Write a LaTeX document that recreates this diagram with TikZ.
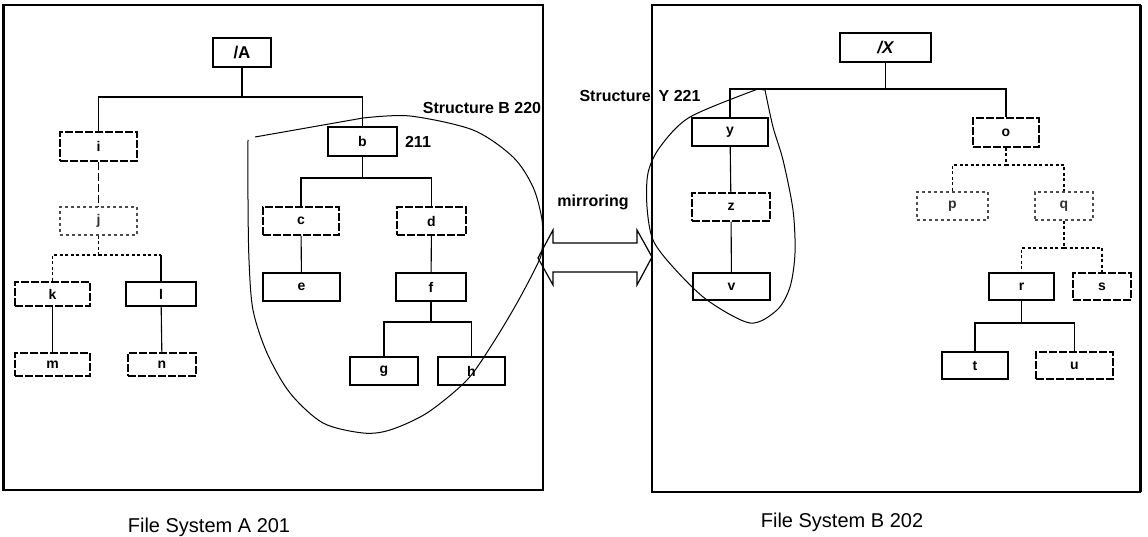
\documentclass[tikz,border=0pt]{standalone}
\usepackage{fontspec}
\setmainfont{Liberation Sans}
\begin{document}
\begin{tikzpicture}[x=1pt,y=-1pt,
 box/.style={draw, line width=1.2pt, minimum height=28pt, inner sep=0pt, font=\bfseries\fontsize{14}{14}\selectfont},
 dbox/.style={box, dash pattern=on 8pt off 2pt},
 fbox/.style={box, dash pattern=on 3pt off 3pt, draw=black!70, text=black!80},
 edge/.style={line width=1.1pt},
 dedge/.style={edge, dash pattern=on 8pt off 3pt},
 fedge/.style={edge, dash pattern=on 3pt off 2.5pt},
 blob/.style={line width=1pt},
 frame/.style={line width=1.5pt},
 lbl/.style={font=\bfseries\fontsize{16}{16}\selectfont, inner sep=0pt},
 captxt/.style={font=\fontsize{20}{20}\selectfont, inner sep=0pt}]
\useasboundingbox (0,0) rectangle (1148,537);

% frames
\draw[frame] (3,5) rectangle (543,490);
\draw[line width=3pt] (3,5) -- (3,490);
\draw[frame] (652,5) rectangle (1140,492);
\draw[line width=3pt] (1140,5) -- (1140,492);

% structure outlines
\draw[blob] (255,137) -- (363,118) plot[smooth] coordinates {(363,118) (410,116) (473,130) (513,157) (533,187) (542,220) (542,250) (537,265) (517,303) (493,343) (467,380) (427,413) (390,430) (363,433) (323,423) (290,393) (267,353) (253,310) (249,260) (248,200) (248,140)};
\draw[blob] (758,89) -- (765,90) plot[smooth] coordinates {(765,90) (773,127) (783,160) (793,210) (795,253) (790,287) (777,310) (750,323) (707,300) (673,267) (653,240) (647,207) (648,173) (660,147) (690,117) (758,89)};

% mirroring arrow
\draw[line width=1.2pt] (538,258) -- (553,230) -- (553,243) -- (637,243) -- (637,230) -- (652,257) -- (637,285) -- (637,272) -- (553,272) -- (553,285) -- cycle;

% left tree nodes
\node[box, minimum width=58pt, minimum height=29pt, font=\bfseries\fontsize{17}{17}\selectfont] (A) at (242,52.5) {/A};
\node[dbox, minimum width=77pt, minimum height=29pt] (i) at (98.5,146.5) {i};
\node[fbox, minimum width=77pt] (j) at (98.5,221) {j};
\node[dbox, minimum width=75pt, minimum height=24pt] (k) at (52.5,294) {k};
\node[box, minimum width=70pt, minimum height=24pt] (l) at (161,294) {l};
\node[dbox, minimum width=75pt, minimum height=23pt] (m) at (52.5,364.5) {m};
\node[dbox, minimum width=68pt, minimum height=23pt] (n) at (162,364.5) {n};
\node[box, minimum width=69pt, minimum height=29pt] (b) at (362.5,141.5) {b};
\node[dbox, minimum width=76pt] (c) at (301,221) {c};
\node[dbox, minimum width=69pt] (d) at (431.5,221) {d};
\node[box, minimum width=77pt] (e) at (301.5,287) {e};
\node[box, minimum width=70pt] (f) at (431,287) {f};
\node[box, minimum width=68pt] (g) at (384,371) {g};
\node[box, minimum width=67pt] (h) at (471.5,371) {h};

% right tree nodes
\node[box, minimum width=91pt, minimum height=29pt, font=\bfseries\itshape\fontsize{17}{17}\selectfont] (X) at (885.5,47.5) {/X};
\node[box, minimum width=76pt] (y) at (730,132) {y};
\node[dbox, minimum width=78pt] (z) at (731,207) {z};
\node[box, minimum width=77pt, minimum height=27pt] (v) at (731.5,286.5) {v};
\node[dbox, minimum width=66pt, minimum height=29pt] (o) at (1006,132.5) {o};
\node[fbox, minimum width=71pt] (p) at (952.5,206) {p};
\node[fbox, minimum width=58pt] (q) at (1064,206) {q};
\node[box, minimum width=65pt, minimum height=27pt] (r) at (1021.5,286.5) {r};
\node[dbox, minimum width=58pt, minimum height=27pt] (s) at (1102,286.5) {s};
\node[box, minimum width=66pt, minimum height=27pt] (t) at (975,365.5) {t};
\node[dbox, minimum width=77pt, minimum height=27pt] (u) at (1074.5,365.5) {u};

% left tree edges
\draw[edge] (A.south) -- (A.south |- 0,97) -| (i.north);
\draw[edge] (A.south |- 0,97) -| (b.north);
\draw[dedge] (i) -- (j);
\draw[fedge] (j.south) -- (j.south |- 0,255) -| (k.north);
\draw[fedge] (j.south |- 0,255) -- (l.north |- 0,255);
\draw[edge] (l.north |- 0,255) -- (l.north);
\draw[edge] (k) -- (m);
\draw[edge] (l) -- (n);
\draw[edge] (b.south) -- (b.south |- 0,178) -| (c.north);
\draw[edge] (b.south |- 0,178) -| (d.north);
\draw[edge] (c) -- (e);
\draw[edge] (d) -- (f);
\draw[edge] (f.south) -- (f.south |- 0,322) -| (g.north);
\draw[edge] (f.south |- 0,322) -| (h.north);

% right tree edges
\draw[edge] (X.south) -- (X.south |- 0,89) -| (y.north);
\draw[edge] (X.south |- 0,89) -| (o.north);
\draw[edge] (y) -- (z);
\draw[edge] (z) -- (v);
\draw[fedge] (o.south) -- (o.south |- 0,165) -| (p.north);
\draw[fedge] (o.south |- 0,165) -| (q.north);
\draw[fedge] (q.south) -- (q.south |- 0,248) -| (r.north);
\draw[fedge] (q.south |- 0,248) -| (s.north);
\draw[edge] (r.south) -- (r.south |- 0,323) -| (t.north);
\draw[edge] (r.south |- 0,323) -| (u.north);

% labels
\node[lbl] (sB) at (482,108) {Structure B 220};
\node[lbl] (n211) at (418,142) {211};
\node[lbl] (sY) at (640,96) {Structure\hspace{8pt}Y 221};
\node[lbl] (mir) at (593,202) {mirroring};
\node[captxt] (capA) at (209,527) {File System A 201};
\node[captxt] (capB) at (842,522) {File System B 202};
\end{tikzpicture}
\end{document}
